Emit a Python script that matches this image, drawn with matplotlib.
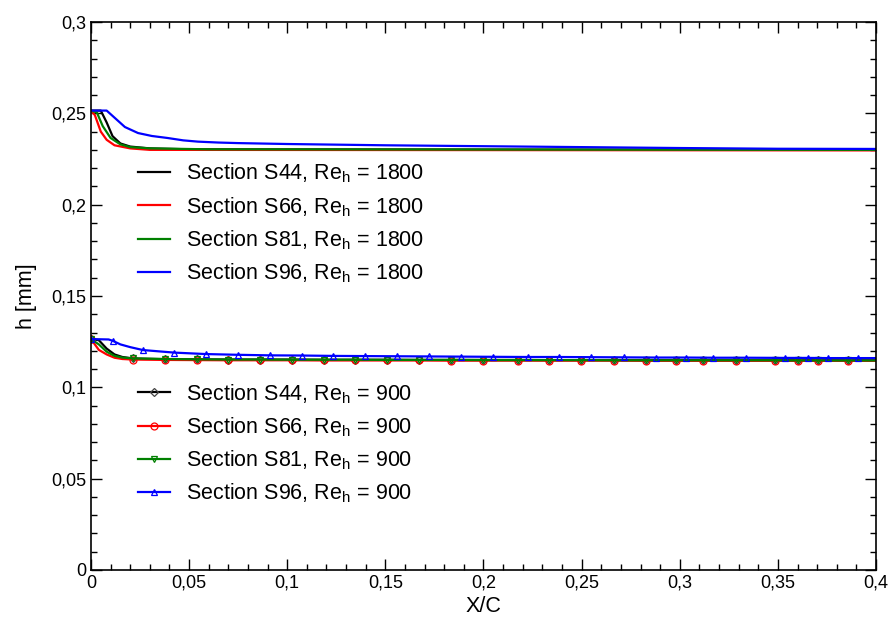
import numpy as np
import matplotlib
matplotlib.use("Agg")
import matplotlib.pyplot as plt
from matplotlib.ticker import MultipleLocator, FuncFormatter

plt.rcParams['font.family'] = ['Liberation Sans', 'DejaVu Sans']
plt.rcParams['mathtext.fontset'] = 'custom'
plt.rcParams['mathtext.rm'] = 'Liberation Sans'
plt.rcParams['mathtext.it'] = 'Liberation Sans'

# ---- Re_h = 1800 series ----
x1800_s44 = [0, 0.005, 0.008, 0.011, 0.015, 0.02, 0.03, 0.05, 0.4]
y1800_s44 = [0.2515, 0.2515, 0.245, 0.2375, 0.2335, 0.2318, 0.2308, 0.2303, 0.2300]
x1800_s66 = [0, 0.002, 0.005, 0.008, 0.012, 0.02, 0.03, 0.4]
y1800_s66 = [0.2515, 0.2490, 0.2400, 0.2355, 0.2325, 0.2308, 0.2300, 0.2297]
x1800_s81 = [0, 0.003, 0.006, 0.01, 0.015, 0.02, 0.03, 0.06, 0.4]
y1800_s81 = [0.2515, 0.2505, 0.2430, 0.2365, 0.2330, 0.2315, 0.2308, 0.2303, 0.2300]
x1800_s96 = [0, 0.008, 0.0173, 0.024, 0.031, 0.039, 0.047, 0.0545, 0.065, 0.075, 0.1, 0.15,
             0.2, 0.25, 0.3, 0.35, 0.4]
y1800_s96 = [0.2515, 0.2515, 0.2425, 0.2392, 0.2376, 0.2365, 0.2352, 0.2345, 0.2340, 0.2337,
             0.2332, 0.2325, 0.2320, 0.2315, 0.2310, 0.2306, 0.2305]

# ---- Re_h = 900 series ----
x900_other = [0, 0.004, 0.008, 0.012, 0.016, 0.0215, 0.0377, 0.054, 0.070, 0.086, 0.1025,
              0.1185, 0.1345, 0.151, 0.167, 0.1835, 0.200, 0.2175, 0.2335, 0.2498, 0.2666,
              0.2829, 0.2982, 0.3119, 0.3288, 0.3486, 0.3603, 0.3705, 0.3858, 0.4]
y900_s44 = [0.1264, 0.1258, 0.1212, 0.1180, 0.1166, 0.1158, 0.1154, 0.1153, 0.1152, 0.1152,
            0.1152, 0.1151, 0.1151, 0.1151, 0.1150, 0.1150, 0.1150, 0.1150, 0.1149, 0.1149,
            0.1149, 0.1149, 0.1149, 0.1148, 0.1148, 0.1148, 0.1148, 0.1148, 0.1148, 0.1148]
y900_s66 = [0.1264, 0.1205, 0.1180, 0.1162, 0.1155, 0.1152, 0.1150, 0.1149, 0.1148, 0.1148,
            0.1148, 0.1147, 0.1147, 0.1147, 0.1147, 0.1146, 0.1146, 0.1146, 0.1146, 0.1146,
            0.1146, 0.1145, 0.1145, 0.1145, 0.1145, 0.1145, 0.1145, 0.1145, 0.1145, 0.1145]
y900_s81 = [0.1264, 0.1235, 0.1195, 0.1172, 0.1163, 0.1158, 0.1155, 0.1153, 0.1152, 0.1152,
            0.1151, 0.1151, 0.1151, 0.1150, 0.1150, 0.1150, 0.1149, 0.1149, 0.1149, 0.1149,
            0.1148, 0.1148, 0.1148, 0.1148, 0.1148, 0.1148, 0.1147, 0.1147, 0.1147, 0.1147]
x900_s96 = [0, 0.009, 0.011, 0.015, 0.02, 0.0265, 0.0425, 0.0588, 0.075, 0.091, 0.1075,
            0.1235, 0.1395, 0.156, 0.172, 0.1885, 0.205, 0.2225, 0.2385, 0.2548, 0.2716,
            0.2879, 0.3032, 0.3169, 0.3338, 0.3536, 0.3653, 0.3755, 0.3908, 0.4]
y900_s96 = [0.1264, 0.1262, 0.1255, 0.1235, 0.1220, 0.1204, 0.1190, 0.1182, 0.1178, 0.1175,
            0.1174, 0.1172, 0.1171, 0.1170, 0.1169, 0.1168, 0.1167, 0.1166, 0.1166, 0.1165,
            0.1164, 0.1163, 0.1163, 0.1162, 0.1162, 0.1161, 0.1161, 0.1160, 0.1160, 0.1160]

sections = ['S44', 'S66', 'S81', 'S96']
colors = ['#000000', '#ff0000', '#008000', '#0000ff']
markers900 = ['D', 'o', 'v', '^']

fig = plt.figure(figsize=(8.9, 6.23), dpi=100)
ax = fig.add_axes([0.1022, 0.0851, 0.8821, 0.8796])

lw = 1.6
h1 = []
for xs, ys, sec, c in zip([x1800_s44, x1800_s66, x1800_s81, x1800_s96],
                          [y1800_s44, y1800_s66, y1800_s81, y1800_s96], sections, colors):
    l, = ax.plot(xs, ys, color=c, lw=lw,
                 label=r'Section %s, Re$_{\mathrm{h}}$ = 1800' % sec)
    h1.append(l)

h2 = []
mark_other = [0] + list(range(5, len(x900_other) - 1))
mark_blue = [0, 2] + list(range(5, len(x900_s96) - 1))
for xs, ys, sec, c, m in zip([x900_other, x900_other, x900_other, x900_s96],
                             [y900_s44, y900_s66, y900_s81, y900_s96], sections, colors, markers900):
    me = mark_blue if sec == 'S96' else mark_other
    l, = ax.plot(xs, ys, color=c, lw=lw, marker=m, markersize=5 if m != 'D' else 4,
                 markerfacecolor='none', markeredgecolor=c if c != '#000000' else '#444444',
                 markeredgewidth=0.9, markevery=me,
                 label=r'Section %s, Re$_{\mathrm{h}}$ = 900' % sec)
    h2.append(l)

ax.set_xlim(0, 0.4)
ax.set_ylim(0, 0.3)
ax.xaxis.set_major_locator(MultipleLocator(0.05))
ax.xaxis.set_minor_locator(MultipleLocator(0.01))
ax.yaxis.set_major_locator(MultipleLocator(0.05))
ax.yaxis.set_minor_locator(MultipleLocator(0.01))
fmt = FuncFormatter(lambda v, p: ('%g' % round(v, 4)).replace('.', ','))
ax.xaxis.set_major_formatter(fmt)
ax.yaxis.set_major_formatter(fmt)
ax.tick_params(which='both', direction='in', top=True, right=True, labelsize=13, width=1.0)
ax.tick_params(which='major', length=8)
ax.tick_params(which='minor', length=4)
for s in ax.spines.values():
    s.set_linewidth(1.2)

ax.set_xlabel('X/C', fontsize=15.5, labelpad=3)
ax.set_ylabel('h [mm]', fontsize=15.5, labelpad=10)

leg_kw = dict(frameon=False, fontsize=15.5, handlelength=1.5, handletextpad=0.75,
              labelspacing=0.45, borderpad=0, borderaxespad=0, loc='upper left')
leg1 = ax.legend(handles=h1, bbox_to_anchor=(0.060, 0.745), **leg_kw)
ax.add_artist(leg1)
leg2 = ax.legend(handles=h2, bbox_to_anchor=(0.060, 0.343), **leg_kw)

fig.savefig('out.png', dpi=100)
